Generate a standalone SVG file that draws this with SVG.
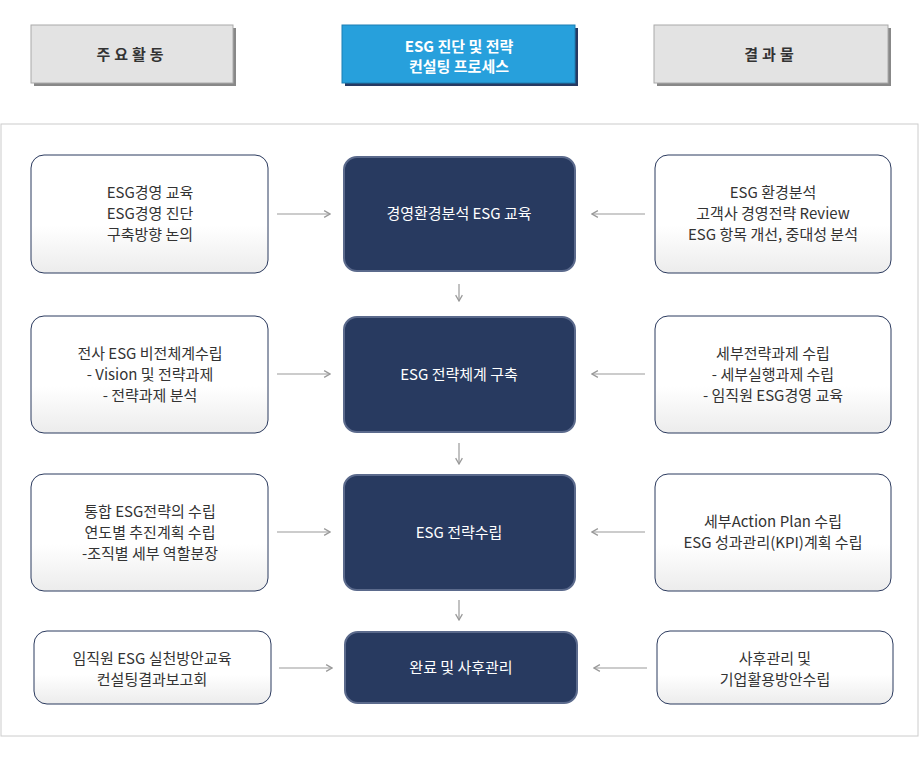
<svg xmlns="http://www.w3.org/2000/svg" width="920" height="760" viewBox="0 0 920 760">
<defs>
<style>
text{font-family:"Noto Sans CJK KR","Noto Sans",sans-serif;text-anchor:middle;font-size:15px}
.lt{fill:#333}
.wt{fill:#fff}
.side{fill:url(#g);stroke:#2b3a5e;stroke-width:1}
.main{fill:#283a60;stroke:#5b6a8c;stroke-width:2}
.ar{stroke:#999;stroke-width:1.2;fill:none;marker-end:url(#m)}
</style>
<linearGradient id="g" x1="0" y1="0" x2="0" y2="1"><stop offset="0.6" stop-color="#fff"/><stop offset="1" stop-color="#ececec"/></linearGradient>
<marker id="m" viewBox="0 0 10 10" refX="9" refY="5" markerWidth="7" markerHeight="7" orient="auto"><path d="M2,1 L9,5 L2,9" fill="none" stroke="#999" stroke-width="1.5"/></marker>
</defs>
<rect width="920" height="760" fill="#fff"/>
<g id="h1"><rect x="34" y="28" width="202" height="58" fill="#888"/><rect x="31" y="25" width="202" height="58" fill="#e3e3e3" stroke="#aaa"/><text x="132" y="60" class="lt" font-weight="bold" letter-spacing="4">주요활동</text></g>
<g id="h2"><rect x="345" y="28" width="233" height="58" fill="#263a63"/><rect x="342" y="25" width="233" height="58" fill="#27a0dc" stroke="#1d7fb3"/><text x="459" y="52" class="wt" font-weight="bold">ESG 진단 및 전략</text><text x="459" y="72" class="wt" font-weight="bold">컨설팅 프로세스</text></g>
<g id="h3"><rect x="657" y="28" width="234" height="58" fill="#888"/><rect x="654" y="25" width="234" height="58" fill="#e3e3e3" stroke="#aaa"/><text x="771" y="60" class="lt" font-weight="bold" letter-spacing="4">결과물</text></g>
<rect id="frame" x="1" y="124" width="917" height="612" fill="none" stroke="#ccc"/>
<g id="l1"><rect class="side" x="31" y="155" width="237" height="118" rx="13"/><text class="lt" x="150" y="198">ESG경영 교육</text><text class="lt" x="150" y="219">ESG경영 진단</text><text class="lt" x="150" y="240">구축방향 논의</text></g>
<g id="c1"><rect class="main" x="344" y="157" width="231" height="114" rx="13"/><text class="wt" x="459" y="219">경영환경분석 ESG 교육</text></g>
<g id="r1"><rect class="side" x="655" y="155" width="236" height="118" rx="13"/><text class="lt" x="773" y="198">ESG 환경분석</text><text class="lt" x="773" y="219">고객사 경영전략 Review</text><text class="lt" x="773" y="240">ESG 항목 개선, 중대성 분석</text></g>
<g id="l2"><rect class="side" x="31" y="316" width="237" height="117" rx="13"/><text class="lt" x="150" y="359">전사 ESG 비전체계수립</text><text class="lt" x="150" y="380">- Vision 및 전략과제</text><text class="lt" x="150" y="401">- 전략과제 분석</text></g>
<g id="c2"><rect class="main" x="344" y="317" width="231" height="115" rx="13"/><text class="wt" x="459" y="380">ESG 전략체계 구축</text></g>
<g id="r2"><rect class="side" x="655" y="316" width="236" height="117" rx="13"/><text class="lt" x="773" y="359">세부전략과제 수립</text><text class="lt" x="773" y="380">- 세부실행과제 수립</text><text class="lt" x="773" y="401">- 임직원 ESG경영 교육</text></g>
<g id="l3"><rect class="side" x="31" y="474" width="237" height="117" rx="13"/><text class="lt" x="150" y="517">통합 ESG전략의 수립</text><text class="lt" x="150" y="538">연도별 추진계획 수립</text><text class="lt" x="150" y="559">-조직별 세부 역할분장</text></g>
<g id="c3"><rect class="main" x="344" y="475" width="231" height="115" rx="13"/><text class="wt" x="459" y="538">ESG 전략수립</text></g>
<g id="r3"><rect class="side" x="655" y="474" width="236" height="117" rx="13"/><text class="lt" x="773" y="527">세부Action Plan 수립</text><text class="lt" x="773" y="548">ESG 성과관리(KPI)계획 수립</text></g>
<g id="l4"><rect class="side" x="34" y="631" width="237" height="73" rx="13"/><text class="lt" x="152" y="664">임직원 ESG 실천방안교육</text><text class="lt" x="152" y="685">컨설팅결과보고회</text></g>
<g id="c4"><rect class="main" x="345" y="632" width="232" height="71" rx="13"/><text class="wt" x="461" y="673">완료 및 사후관리</text></g>
<g id="r4"><rect class="side" x="657" y="631" width="236" height="73" rx="13"/><text class="lt" x="775" y="664">사후관리 및</text><text class="lt" x="775" y="685">기업활용방안수립</text></g>
<g id="connectors">
<path class="ar" d="M277,214 H330"/><path class="ar" d="M645,214 H592"/>
<path class="ar" d="M277,374 H330"/><path class="ar" d="M645,374 H592"/>
<path class="ar" d="M277,532 H330"/><path class="ar" d="M645,532 H592"/>
<path class="ar" d="M279,668 H332"/><path class="ar" d="M647,668 H594"/>
<path class="ar" d="M459,284 V301"/><path class="ar" d="M459,443 V464"/><path class="ar" d="M459,600 V620"/>
</g>
</svg>
